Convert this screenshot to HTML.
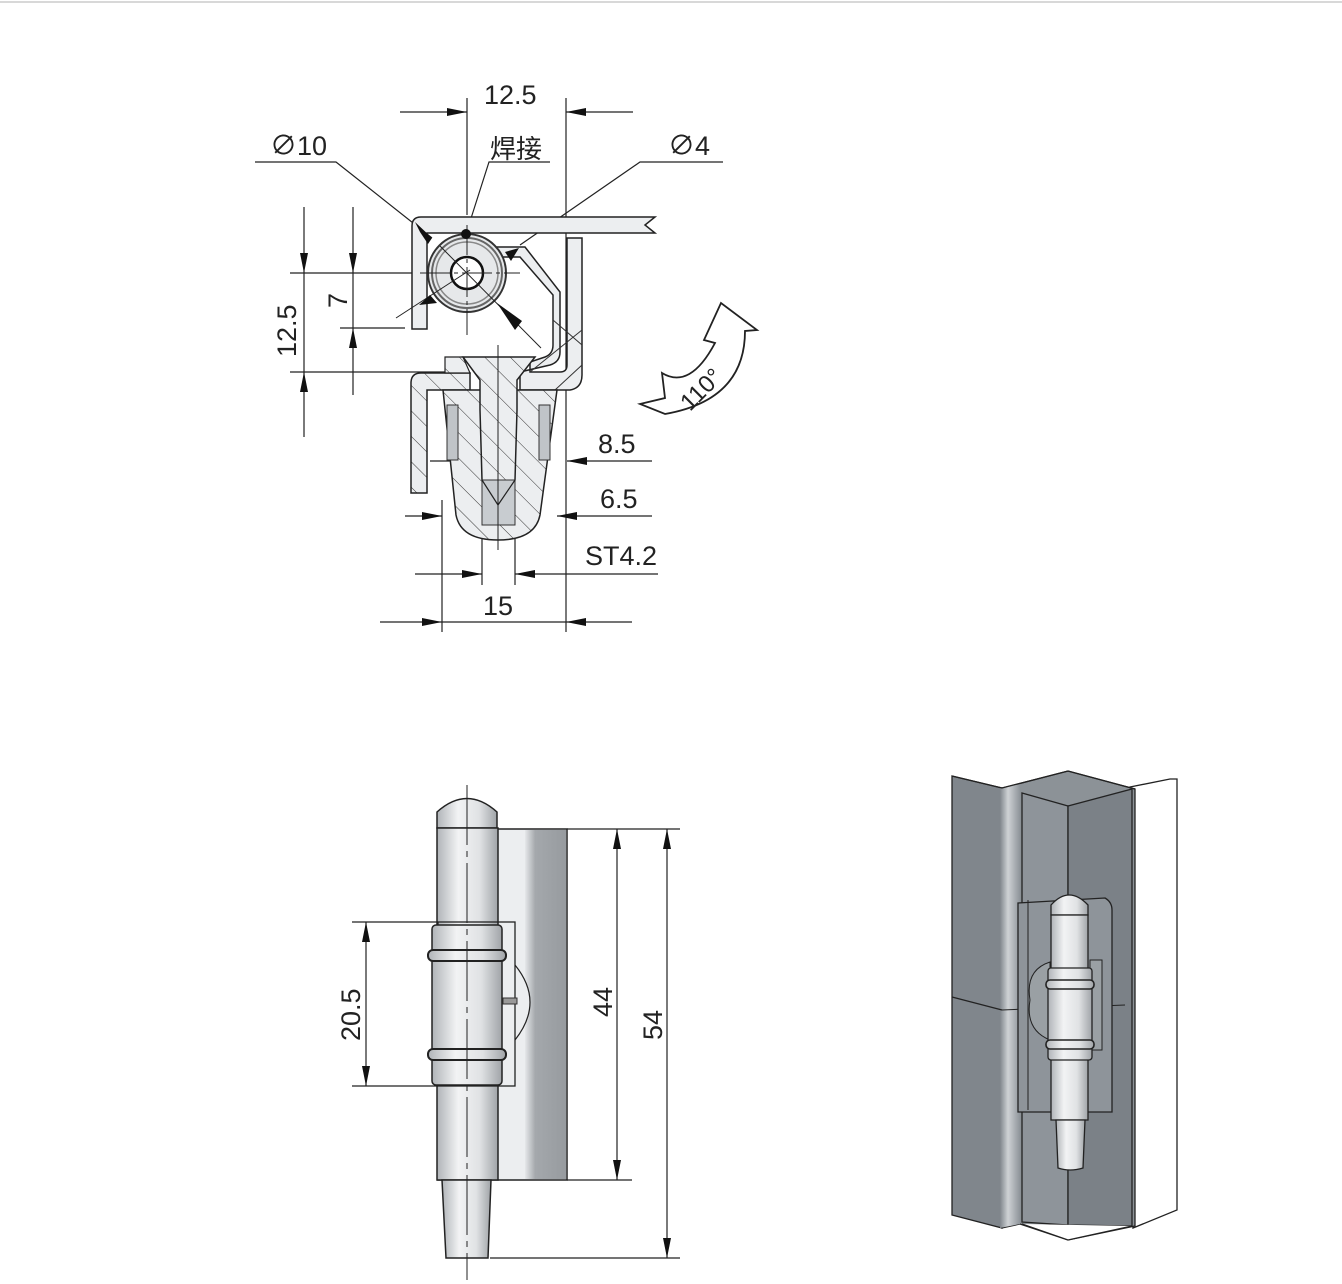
<!DOCTYPE html>
<html><head><meta charset="utf-8"><style>
html,body{margin:0;padding:0;background:#fff;}
svg{display:block;}
text{font-family:"Liberation Sans","Noto Sans CJK SC",sans-serif;fill:#222;}
</style></head><body>
<svg width="1342" height="1284" viewBox="0 0 1342 1284" xmlns="http://www.w3.org/2000/svg">
<defs>
<pattern id="hatch" patternUnits="userSpaceOnUse" width="18" height="18" patternTransform="rotate(-45)">
<rect width="18" height="18" fill="#eceef0"/><line x1="0" y1="0" x2="0" y2="18" stroke="#333" stroke-width="1"/>
</pattern>
<linearGradient id="pin" x1="0" x2="1" y1="0" y2="0">
<stop offset="0" stop-color="#b0b4b8"/><stop offset="0.35" stop-color="#f2f3f4"/><stop offset="0.7" stop-color="#e0e2e4"/><stop offset="1" stop-color="#a0a4a8"/>
</linearGradient>
<linearGradient id="dark" x1="0" x2="1" y1="0" y2="0">
<stop offset="0" stop-color="#e6e8ea"/><stop offset="0.25" stop-color="#a4a8ac"/><stop offset="1" stop-color="#979b9f"/>
</linearGradient>
<linearGradient id="strip" x1="0" x2="1" y1="0" y2="0">
<stop offset="0" stop-color="#80868c"/><stop offset="0.4" stop-color="#cfd2d5"/><stop offset="1" stop-color="#8e949a"/>
</linearGradient>
<marker id="ah" viewBox="0 0 20 8" refX="20" refY="4" markerWidth="20" markerHeight="8" markerUnits="userSpaceOnUse" orient="auto-start-reverse">
<path d="M0,0 L20,4 L0,8 z" fill="#111"/></marker>
</defs>

<line x1="0" y1="2" x2="1342" y2="2" stroke="#ccc" stroke-width="1.5"/>

<!-- ============ TOP SECTION DRAWING ============ -->
<g stroke="#222" stroke-width="1.2" fill="none">
<line x1="467" y1="98" x2="467" y2="215"/>
<line x1="566" y1="98" x2="566" y2="632"/>
<line x1="290" y1="273" x2="452" y2="273"/>
<line x1="290" y1="372" x2="462" y2="372"/>
<line x1="340" y1="328" x2="405" y2="328"/>
<line x1="442" y1="500" x2="442" y2="632"/>
<line x1="482" y1="500" x2="482" y2="585"/>
<line x1="515" y1="500" x2="515" y2="585"/>
<line x1="400" y1="112" x2="467" y2="112" marker-end="url(#ah)"/>
<line x1="633" y1="112" x2="566" y2="112" marker-end="url(#ah)"/>
<line x1="304" y1="207" x2="304" y2="273" marker-end="url(#ah)"/>
<line x1="304" y1="437" x2="304" y2="372" marker-end="url(#ah)"/>
<line x1="304" y1="273" x2="304" y2="372"/>
<line x1="353" y1="207" x2="353" y2="273" marker-end="url(#ah)"/>
<line x1="353" y1="395" x2="353" y2="328" marker-end="url(#ah)"/>
<line x1="353" y1="273" x2="353" y2="328"/>
<line x1="430" y1="461" x2="497" y2="461" marker-end="url(#ah)"/>
<line x1="652" y1="461" x2="567" y2="461" marker-end="url(#ah)"/>
<line x1="405" y1="516" x2="442" y2="516" marker-end="url(#ah)"/>
<line x1="652" y1="516" x2="557" y2="516" marker-end="url(#ah)"/>
<line x1="415" y1="574" x2="482" y2="574" marker-end="url(#ah)"/>
<line x1="658" y1="574" x2="515" y2="574" marker-end="url(#ah)"/>
<line x1="380" y1="622" x2="442" y2="622" marker-end="url(#ah)"/>
<line x1="632" y1="622" x2="566" y2="622" marker-end="url(#ah)"/>
<line x1="442" y1="622" x2="566" y2="622"/>
<polyline points="255,162 336,162 432,238"/>
<polyline points="550,162 489,162 466,234"/>
<polyline points="723,162 640,162 520,245"/>
</g>

<path d="M412,226 Q412,217 421,217 L655,217 L645,225 L655,233 L427,233 L427,329 L412,329 Z" fill="#eceef0" stroke="#222" stroke-width="1.5"/>
<path d="M467,247 L525,247 L560,292 L560,352 Q560,362 550,365 L520,372 L520,390 L570,390 Q582,388 582,375 L582,238 L567,238 L567,365 Q567,372 560,372 L530,372 L530,362 L545,357 Q553,354 553,345 L553,295 L520,257 L467,257 Z" fill="#eceef0" stroke="#222" stroke-width="1.5"/>
<path d="M553,320 L582,345 M530,372 L582,330 M555,390 L582,365" stroke="#333" stroke-width="1"/>
<circle cx="467" cy="273" r="39" fill="#e6e8ea" stroke="#333" stroke-width="2"/>
<circle cx="467" cy="273" r="35" fill="none" stroke="#666" stroke-width="2"/>
<circle cx="467" cy="273" r="31" fill="none" stroke="#888" stroke-width="1.5"/>
<circle cx="467" cy="273" r="16" fill="#fff" stroke="#111" stroke-width="2.5"/>
<g stroke="#222" stroke-width="1">
<line x1="420" y1="273" x2="520" y2="273" stroke-dasharray="30,4,4,4"/>
<line x1="467" y1="225" x2="467" y2="335" stroke-dasharray="30,4,4,4"/>
<line x1="396" y1="318" x2="470" y2="270"/>
<line x1="440" y1="246" x2="541" y2="348"/>
</g>
<path d="M419,305 L430,295 L437,303 Z" fill="#111"/>
<path d="M519,248 L505,252 L511,261 Z" fill="#111"/>
<path d="M432,238 L415,222 L420,232 L428,244 Z" fill="#111"/>
<path d="M497,303 L515,330 L522,321 Z" fill="#111"/>
<circle cx="466" cy="234" r="5" fill="#111"/>

<path d="M411,383 Q411,373 421,373 L470,373 L470,390 L427,390 L427,493 L411,493 Z" fill="url(#hatch)" stroke="#222" stroke-width="1.5"/>
<path d="M445,373 L445,357 L463,357 L470,373 Z" fill="url(#hatch)" stroke="#222" stroke-width="1.2"/>
<path d="M443,390 L557,390 L540,515 Q535,540 498,540 Q461,540 456,515 Z" fill="url(#hatch)" stroke="#222" stroke-width="1.5"/>
<rect x="447" y="405" width="11" height="55" fill="#c0c4c8" stroke="#333"/>
<rect x="539" y="405" width="11" height="55" fill="#c0c4c8" stroke="#333"/>
<path d="M463,357 L535,357 L517,380 L517,410 L515,480 L498,505 L482,480 L480,410 L480,380 Z" fill="url(#hatch)" stroke="#222" stroke-width="1.5"/>
<rect x="482" y="480" width="33" height="45" fill="#c8ccd0" stroke="#333"/>
<path d="M482,480 L498,505 L515,480" fill="none" stroke="#222" stroke-width="1.2"/>
<line x1="498" y1="345" x2="498" y2="550" stroke="#222" stroke-width="1"/>

<path d="M640,404 L665,398 L662,373 Q690,390 715,343 L704,340 L721,303 L757,330 L745,331 Q745,400 665,414 Z" fill="#fff" stroke="#222" stroke-width="1.8"/>
<text x="0" y="0" font-size="24" transform="translate(690,412) rotate(-45)">110°</text>

<text x="484" y="104" font-size="27">12.5</text>
<text x="270" y="155" font-size="27">∅10</text>
<text x="490" y="158" font-size="26">焊接</text>
<text x="668" y="155" font-size="27">∅4</text>
<text x="598" y="453" font-size="27">8.5</text>
<text x="600" y="508" font-size="27">6.5</text>
<text x="585" y="565" font-size="27">ST4.2</text>
<text x="483" y="615" font-size="27">15</text>
<text font-size="27" transform="translate(296,357) rotate(-90)">12.5</text>
<text font-size="27" transform="translate(347,308) rotate(-90)">7</text>

<!-- ============ FRONT VIEW ============ -->
<rect x="438" y="829" width="129" height="351" fill="#eceef0" stroke="#222" stroke-width="1.5"/>
<rect x="525" y="830" width="41" height="349" fill="url(#dark)"/>
<path d="M437,828 L437,812 Q467,785 497,812 L497,828 Z" fill="url(#pin)" stroke="#222" stroke-width="1.5"/>
<rect x="437" y="828" width="61" height="352" fill="url(#pin)" stroke="#222" stroke-width="1.5"/>
<path d="M442,1180 L491,1180 L488,1258 L446,1258 Z" fill="url(#pin)" stroke="#222" stroke-width="1.5"/>
<path d="M515,965 Q545,1002 515,1040" fill="#eceef0" stroke="#222" stroke-width="1.2"/>
<rect x="438" y="922" width="77" height="164" fill="none" stroke="#222" stroke-width="1.3"/>
<rect x="432" y="925" width="70" height="160" rx="4" fill="url(#pin)" stroke="#222" stroke-width="1.5"/>
<rect x="428" y="950" width="78" height="11" rx="5" fill="url(#pin)" stroke="#222" stroke-width="2"/>
<rect x="428" y="1049" width="78" height="11" rx="5" fill="url(#pin)" stroke="#222" stroke-width="2"/>
<rect x="503" y="998" width="14" height="6" fill="#999" stroke="#333" stroke-width="1"/>
<line x1="467" y1="785" x2="467" y2="1280" stroke="#222" stroke-width="1" stroke-dasharray="60,6,6,6"/>
<g stroke="#222" stroke-width="1.2" fill="none">
<line x1="352" y1="922" x2="438" y2="922"/>
<line x1="352" y1="1086" x2="438" y2="1086"/>
<line x1="366" y1="1004" x2="366" y2="922" marker-end="url(#ah)"/>
<line x1="366" y1="1004" x2="366" y2="1086" marker-end="url(#ah)"/>
<line x1="567" y1="829" x2="680" y2="829"/>
<line x1="567" y1="1180" x2="632" y2="1180"/>
<line x1="490" y1="1258" x2="680" y2="1258"/>
<line x1="617" y1="1004" x2="617" y2="829" marker-end="url(#ah)"/>
<line x1="617" y1="1004" x2="617" y2="1180" marker-end="url(#ah)"/>
<line x1="667" y1="1040" x2="667" y2="829" marker-end="url(#ah)"/>
<line x1="667" y1="1040" x2="667" y2="1258" marker-end="url(#ah)"/>
</g>
<text font-size="27" transform="translate(360,1041) rotate(-90)">20.5</text>
<text font-size="27" transform="translate(612,1017) rotate(-90)">44</text>
<text font-size="27" transform="translate(662,1040) rotate(-90)">54</text>

<!-- ============ 3D VIEW ============ -->
<g stroke="#222" stroke-width="1.3">
<path d="M1130,787 L1170,779 L1177,779 L1177,1210 L1133,1228 Z" fill="#fff"/>
<path d="M1002,788 L1068,771 L1135,789 L1135,1226 L1068,1240 L1020,1224 L1002,1228 Z" fill="#8c9297"/>
<path d="M952,776 L1002,788 L1002,1228 L952,1215 Z" fill="#80868c"/>
<path d="M1000,788 L1020,783 L1020,1224 L1000,1228 Z" fill="url(#strip)" stroke="none"/>
<path d="M1022,793 L1068,806 L1068,1225 L1022,1222 Z" fill="#8e949a"/>
<path d="M1068,806 L1132,789 L1132,1226 L1068,1225 Z" fill="#7b8187"/>
<path d="M952,776 L1002,788 L1068,771 L1135,789" fill="none"/>
<path d="M1022,1224 L1068,1240 L1132,1226" fill="#fff"/>
<line x1="952" y1="997" x2="1002" y2="1010"/>
<line x1="1002" y1="1010" x2="1125" y2="1005" stroke-width="1"/>
<path d="M1018,903 L1105,898 Q1112,902 1112,910 L1112,1112 L1018,1112 Z" fill="#8e949a"/>
<path d="M1028,900 L1028,1110" fill="none" stroke-width="1"/>
<path d="M1030,1000 Q1025,970 1050,962 L1050,1040 Q1025,1030 1030,1000 Z" fill="#9aa0a4" stroke-width="1"/>
<path d="M1090,960 L1102,960 L1102,1050 L1090,1050 Z" fill="#9aa0a4" stroke-width="1"/>
<path d="M1051,915 L1051,905 Q1069,885 1088,905 L1088,915 Z" fill="url(#pin)"/>
<rect x="1051" y="915" width="37" height="205" fill="url(#pin)"/>
<path d="M1056,1120 L1085,1120 L1083,1168 Q1070,1172 1058,1168 Z" fill="url(#pin)"/>
<rect x="1048" y="968" width="44" height="92" rx="3" fill="url(#pin)"/>
<rect x="1046" y="980" width="48" height="9" rx="4" fill="url(#pin)" stroke-width="1.6"/>
<rect x="1046" y="1040" width="48" height="9" rx="4" fill="url(#pin)" stroke-width="1.6"/>
</g>
</svg>
</body></html>
